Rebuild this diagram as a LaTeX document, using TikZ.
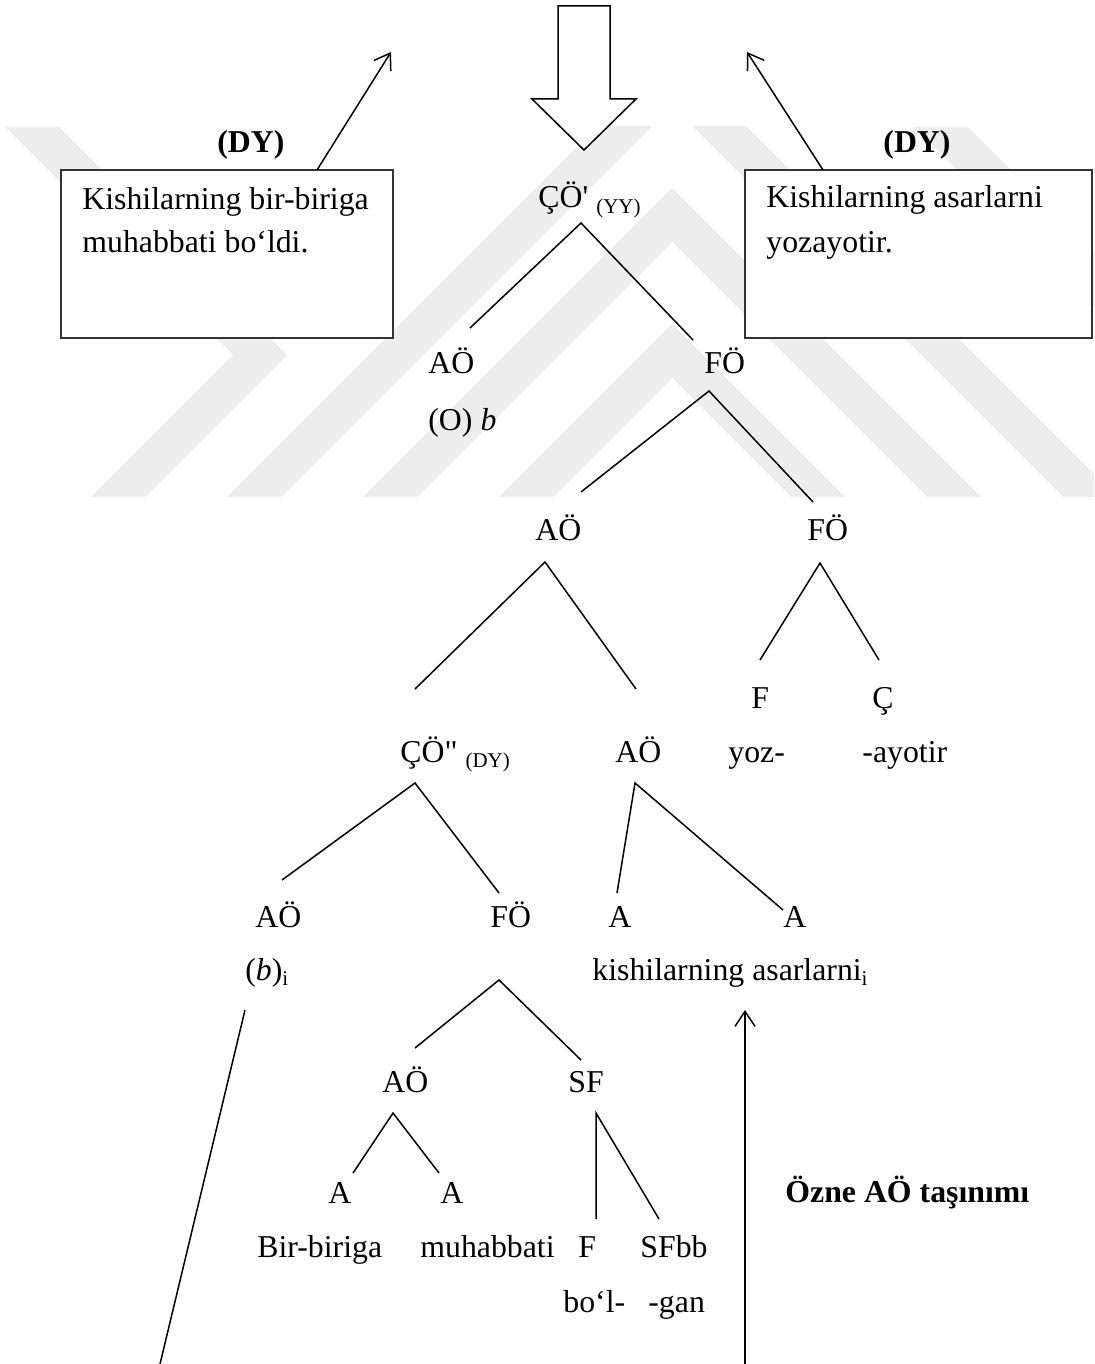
\documentclass[tikz,border=0pt]{standalone}
\usepackage{fontspec}
\setmainfont{Liberation Serif}
\usetikzlibrary{arrows.meta}
\newcommand\lowsub[1]{\raisebox{-2.5pt}{\fontsize{10.5}{12}\selectfont #1}}
\begin{document}
\begin{tikzpicture}[x=0.5pt,y=-0.5pt,
  lbl/.style={anchor=base west,inner sep=0pt,font=\fontsize{15.9}{19}\selectfont},
  edge/.style={line width=0.75pt},
  move/.style={line width=0.75pt,-{Straight Barb[length=7.5pt,width=10pt]}},
  frame/.style={draw=black!80,line width=0.9pt,fill=white,inner sep=0pt},
  emblem/.style={fill=black!7,draw=none}]
\useasboundingbox (0,0) rectangle (1094,1364);

% pale striped emblem in the background (45 degree bands)
\begin{scope}
  \clip (0,127) rectangle (1094,497);
  % left chevron pointing right
  \fill[emblem] (5,127) -- (59,127) -- (287,355) -- (145,497) -- (91,497) -- (233,355) -- cycle;
  % nested chevrons pointing up
  \fill[emblem] (499,497) -- (672,324) -- (845,497) -- (791,497) -- (672,378) -- (553,497) -- cycle;
  \fill[emblem] (363,497) -- (672,188) -- (981,497) -- (927,497) -- (672,242) -- (417,497) -- cycle;
  \fill[emblem] (227,497) -- (672,52) -- (1117,497) -- (1063,497) -- (672,106) -- (281,497) -- cycle;
  % band in the upper right
  \fill[emblem] (914,127) -- (968,127) -- (1338,497) -- (1284,497) -- cycle;
\end{scope}

% big hollow arrow at the top
\draw[line width=0.75pt,fill=white] (558,6) -- (610,6) -- (610,99) -- (636,99)
  -- (584,150) -- (532,99) -- (558,99) -- cycle;

% sentence boxes
\node[frame,minimum width=166pt,minimum height=84pt] (lbox) at (227,254) {};
\node[frame,minimum width=173.5pt,minimum height=84pt] (rbox) at (918.5,254) {};
\node[lbl] (lboxa) at (82,210) {Kishilarning bir-biriga};
\node[lbl] (lboxb) at (82,253) {muhabbati bo‘ldi.};
\node[lbl] (rboxa) at (766,208) {Kishilarning asarlarni};
\node[lbl] (rboxb) at (766,253) {yozayotir.};
\node[lbl,font=\fontsize{15.9}{19}\selectfont\bfseries] (ldy) at (217,153) {(DY)};
\node[lbl,font=\fontsize{15.9}{19}\selectfont\bfseries] (rdy) at (883,153) {(DY)};

% arrows leaving the boxes
\coordinate (lout) at (317,170);
\coordinate (ltip) at (391,52);
\coordinate (rout) at (823,170);
\coordinate (rtip) at (747,52);
\draw[move] (lout) -- (ltip);
\draw[move] (rout) -- (rtip);

% tree labels
\node[lbl] (co1) at (538,208) {ÇÖ\textquotesingle\ \lowsub{(YY)}};
\node[lbl] (ao1) at (428,373) {AÖ};
\node[lbl] (ob) at (428,430) {(O) \textit{b}};
\node[lbl] (fo1) at (704,373) {FÖ};
\node[lbl] (ao2) at (535,540) {AÖ};
\node[lbl] (fo2) at (807,540) {FÖ};
\node[lbl] (f1) at (751,708) {F};
\node[lbl] (c1) at (872,708) {Ç};
\node[lbl] (yoz) at (728,762) {yoz-};
\node[lbl] (ayotir) at (862,762) {-ayotir};
\node[lbl] (co2) at (400,762) {ÇÖ\textquotedbl\ \lowsub{(DY)}};
\node[lbl] (ao3) at (615,762) {AÖ};
\node[lbl] (ao4) at (255,927) {AÖ};
\node[lbl] (fo3) at (490,927) {FÖ};
\node[lbl] (a1) at (608,927) {A};
\node[lbl] (a2) at (783,927) {A};
\node[lbl] (bi) at (245,980) {(\textit{b})\lowsub{i}};
\node[lbl] (kish) at (592,980) {kishilarning asarlarni\lowsub{i}};
\node[lbl] (ao5) at (382,1092) {AÖ};
\node[lbl] (sf) at (568,1092) {SF};
\node[lbl] (a3) at (328,1203) {A};
\node[lbl] (a4) at (440,1203) {A};
\node[lbl,font=\fontsize{15.9}{19}\selectfont\bfseries] (ozne) at (785,1202) {Özne AÖ taşınımı};
\node[lbl] (birb) at (257,1257) {Bir-biriga};
\node[lbl] (muh) at (420,1257) {muhabbati};
\node[lbl] (f2) at (578,1257) {F};
\node[lbl] (sfbb) at (640,1257) {SFbb};
\node[lbl] (bol) at (563,1312) {bo‘l-};
\node[lbl] (gan) at (648,1312) {-gan};

% branch end points
\coordinate (p1) at (581,223);  \coordinate (p1l) at (470,328);  \coordinate (p1r) at (693,340);
\coordinate (p2) at (709,391);  \coordinate (p2l) at (581,492);  \coordinate (p2r) at (813,502);
\coordinate (p3) at (545,562);  \coordinate (p3l) at (415,689);  \coordinate (p3r) at (636,689);
\coordinate (p4) at (820,563);  \coordinate (p4l) at (760,660);  \coordinate (p4r) at (879,660);
\coordinate (p5) at (415,783);  \coordinate (p5l) at (282,880);  \coordinate (p5r) at (499,893);
\coordinate (p6) at (635,783);  \coordinate (p6l) at (617,893);  \coordinate (p6r) at (783,910);
\coordinate (p7) at (499,980);  \coordinate (p7l) at (415,1048); \coordinate (p7r) at (581,1060);
\coordinate (p8) at (393,1113); \coordinate (p8l) at (353,1173); \coordinate (p8r) at (439,1173);
\coordinate (p9) at (596,1113); \coordinate (p9l) at (596,1219); \coordinate (p9r) at (659,1219);

\foreach \n in {1,...,9}{
  \draw[edge] (p\n l) -- (p\n) -- (p\n r);
}

% trace line and movement arrow
\coordinate (tr1) at (245,1010);
\coordinate (tr2) at (160,1364);
\draw[edge] (tr1) -- (tr2);
\coordinate (mv1) at (745,1364);
\coordinate (mv2) at (745,1010);
\draw[move] (mv1) -- (mv2);
\end{tikzpicture}
\end{document}
